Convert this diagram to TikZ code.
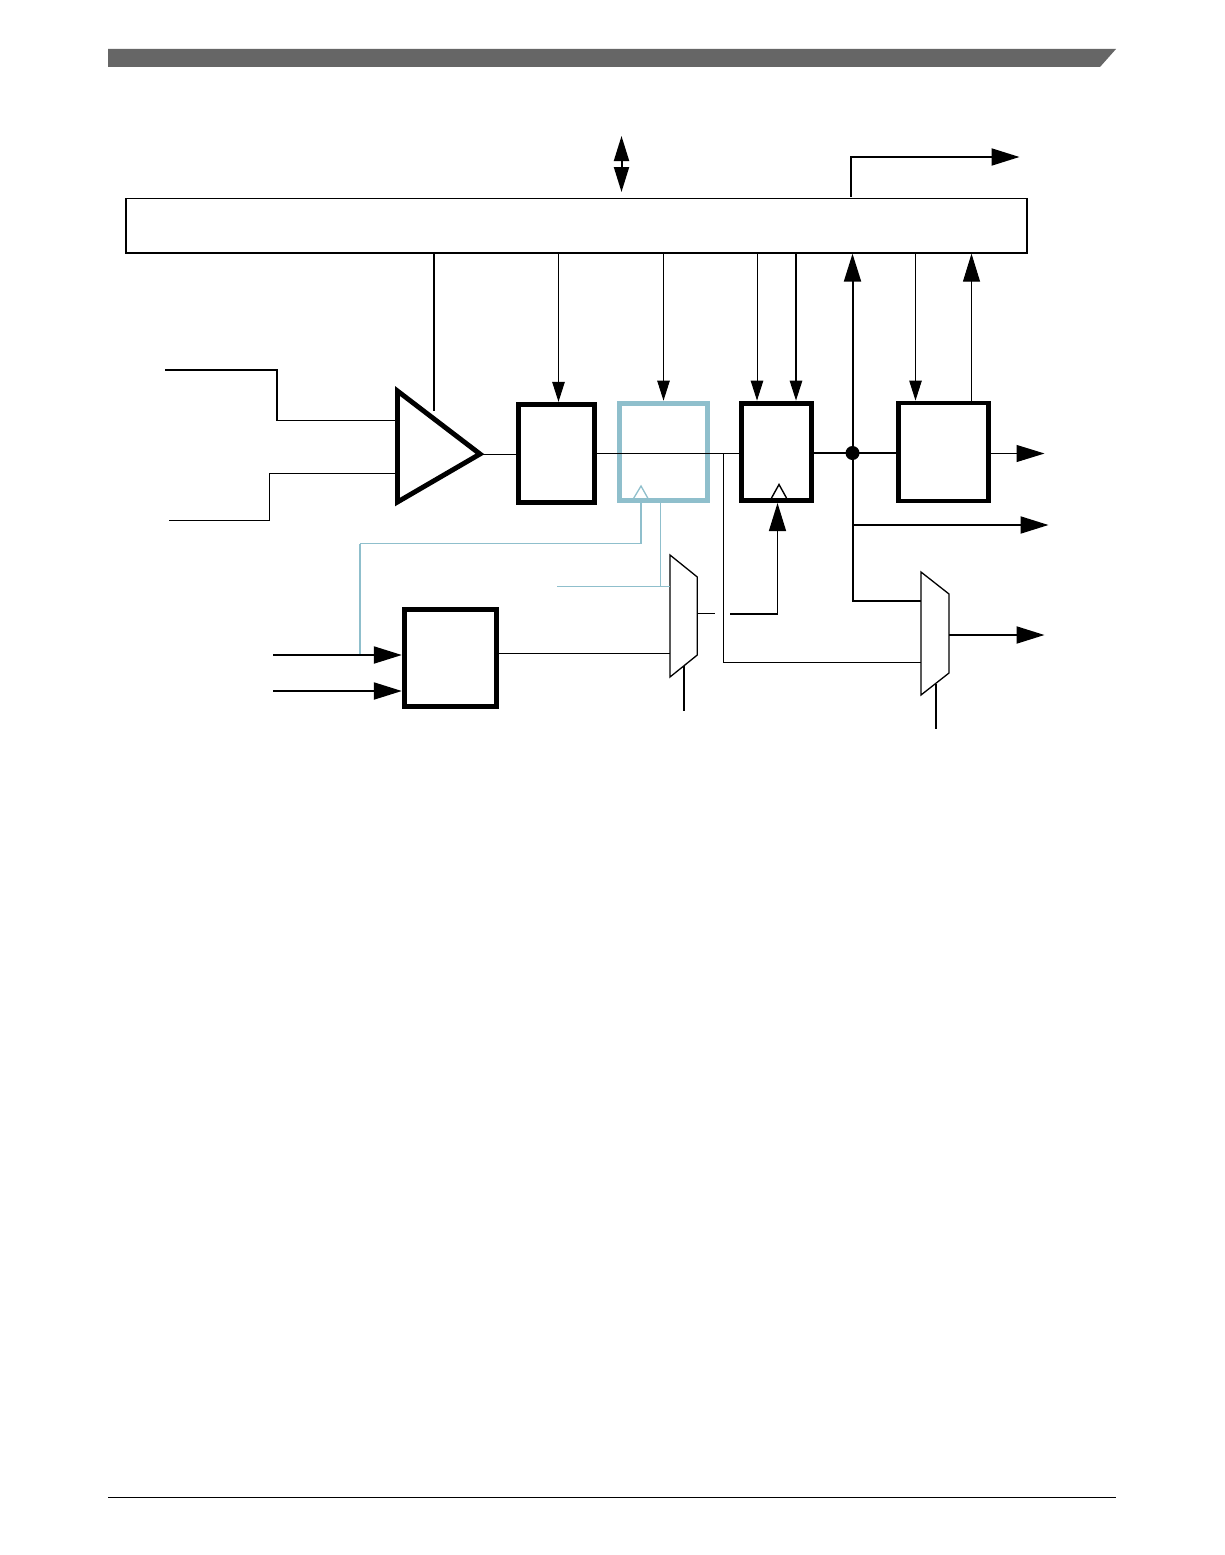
\documentclass[tikz,border=0pt]{standalone}
\usetikzlibrary{arrows.meta,calc}
\definecolor{tealline}{HTML}{8FBFCC}
\definecolor{barcol}{HTML}{666666}
\tikzset{
  blockbox/.style={draw=black,line width=4.9pt,inner sep=0pt,fill=white},
  tealbox/.style={blockbox,draw=tealline},
  busbox/.style={draw=black,line width=1.2pt,inner sep=0pt},
  thinw/.style={line width=1pt,draw=black},
  midw/.style={line width=1.3pt,draw=black},
  thickw/.style={line width=2pt,draw=black},
  tealw/.style={line width=1pt,draw=tealline},
  tealwb/.style={line width=2pt,draw=tealline},
  smallhead/.style={-{Triangle[length=20pt,width=12.5pt]}},
  bighead/.style={-{Triangle[length=28pt,width=17pt]}},
  muxshape/.style={line width=1.3pt,draw=black,fill=white,line join=miter},
  ampshape/.style={line width=4.9pt,draw=black,fill=white,line join=miter},
}
\begin{document}
\begin{tikzpicture}[x=1pt,y=-1pt]
\useasboundingbox[fill=white] (0,0) rectangle (1224,1555);
% page furniture
\fill[barcol] (108,49) -- (1116,49) -- (1100,67) -- (108,67) -- cycle;
\draw[line width=1pt] (108,1497.5) -- (1116,1497.5);

% blocks
\node[busbox,minimum width=901pt,minimum height=54.5pt] (bus) at (576.5,225.8) {};
\node[blockbox,minimum width=76.4pt,minimum height=98.4pt] (boxa) at (556.5,453.5) {};
\node[tealbox,minimum width=88.3pt,minimum height=97.5pt] (boxb) at (663.6,451.8) {};
\node[blockbox,minimum width=70.2pt,minimum height=97.5pt] (boxc) at (776.6,451.8) {};
\node[blockbox,minimum width=90.3pt,minimum height=98pt] (boxd) at (943.6,452) {};
\node[blockbox,minimum width=92.2pt,minimum height=97.1pt] (boxe) at (450.4,657.9) {};

% amplifier and muxes
\draw[ampshape] (397.5,391) coordinate (ampt) -- (480,454) coordinate (ampo) -- (397.5,502) coordinate (ampb) -- cycle;
\draw[muxshape] (670,555) coordinate (mat) -- (697.3,577) -- (697.3,655) -- (670,677) coordinate (mab) -- cycle;
\draw[muxshape] (921,572) coordinate (mbt) -- (949,594) -- (949,673) -- (921,695) coordinate (mbb) -- cycle;

% clock marks
\draw[line width=1.3pt,draw=tealline,line join=miter] (633.5,498.5) -- (641,486) -- (648,498.5);
\draw[line width=1.4pt,line join=miter] (771.5,498) -- (779,484.5) -- (786.5,498);

% port positions
\coordinate (xamp) at (434,0);
\coordinate (xb) at (663.5,0);
\coordinate (xa) at (558.5,0);
\coordinate (xc1) at (757,0);
\coordinate (xc2) at (796,0);
\coordinate (xj) at (852.5,0);
\coordinate (xd1) at (915.5,0);
\coordinate (xd2) at (971.5,0);
\coordinate (dotj) at (852.5,453);
\coordinate (yb) at (0,453.5);

% top arrows
\coordinate (dbltop) at (621.5,136);
\coordinate (dblbot) at (621.5,192);
\draw[thickw,{Triangle[length=25pt,width=15pt]}-{Triangle[length=25pt,width=15pt]}] (dbltop) -- (dblbot);
\coordinate (irqend) at (1019.5,157);
\coordinate (irqcorner) at (851,157);
\draw[thickw,bighead] (851,197) -- (irqcorner) -- (irqend);

% bus to blocks
\draw[midw] (bus.south -| xamp) -- (434,411);
\draw[thinw,smallhead] (bus.south -| xa) -- (boxa.north -| xa);
\draw[thinw,smallhead] (bus.south -| xb) -- (boxb.north -| xb);
\draw[thinw,smallhead] (bus.south -| xc1) -- (boxc.north -| xc1);
\draw[midw,smallhead] (bus.south -| xc2) -- (boxc.north -| xc2);
\draw[thinw,smallhead] (bus.south -| xd1) -- (boxd.north -| xd1);
\draw[thinw,bighead] (boxd.north -| xd2) -- (bus.south -| xd2);
\draw[thickw,bighead] (dotj) -- (bus.south -| xj);

% inputs to amplifier
\coordinate (inp) at (165,370);
\coordinate (inn) at (169,520.5);
\draw[midw] (inp) -- (277,370) -- (277,420.5) -- (397,420.5);
\draw[midw] (inn) -- (269.5,520.5) -- (269.5,473.5) -- (397,473.5);
\draw[thinw] (ampo) -- (boxa.west |- ampo);

% data path
\draw[thinw] (boxa.east |- yb) -- (boxc.west |- yb);
\draw[thinw] (723.5,453.5) -- (723.5,662.5) -- (mbt |- 0,662.5);
\draw[thickw] (boxc.east |- dotj) -- (boxd.west |- dotj);
\fill (dotj) circle (7pt);
\draw[thinw,bighead] (boxd.east |- yb) -- (1044.5,453.5) coordinate (outa);
\draw[thickw,bighead] (852.5,525) -- (1048.5,525) coordinate (outb);
\draw[thickw] (dotj) -- (852.5,601) -- (mbt |- 0,601);

% teal clock lines
\draw[tealw] (660.5,502.7) -- (660.5,586.5);
\coordinate (tealin) at (557,586.5);
\draw[tealw] (tealin) -- (mat |- tealin);
\coordinate (tealcorner) at (359.5,543.5);
\draw[tealwb] (641,502) -- (641,543.5);
\draw[tealw] (641,543.5) -- (tealcorner);
\draw[tealwb] (tealcorner) -- (359.5,656);

% lower block
\coordinate (inc) at (273,655);
\coordinate (ind) at (273,691);
\draw[thickw,bighead] (inc) -- (boxe.west |- inc);
\draw[thickw,bighead] (ind) -- (boxe.west |- ind);
\draw[thinw] (boxe.east |- 0,653.5) -- (mat |- 0,653.5);

% mux outputs
\coordinate (stuba) at (715,613.5);
\draw[thinw] (697.3,613.5) -- (stuba);
\coordinate (clkin) at (730,614);
\draw[midw,bighead] (clkin) -- (777.5,614) -- (boxc.south -| 777.5,0);
\coordinate (sela) at (684,711);
\draw[midw] (684,666) -- (sela);
\coordinate (selb) at (936,729);
\draw[midw] (936,684) -- (selb);
\draw[thickw,bighead] (949,635) -- (1044.5,635) coordinate (outc);
\end{tikzpicture}
\end{document}
